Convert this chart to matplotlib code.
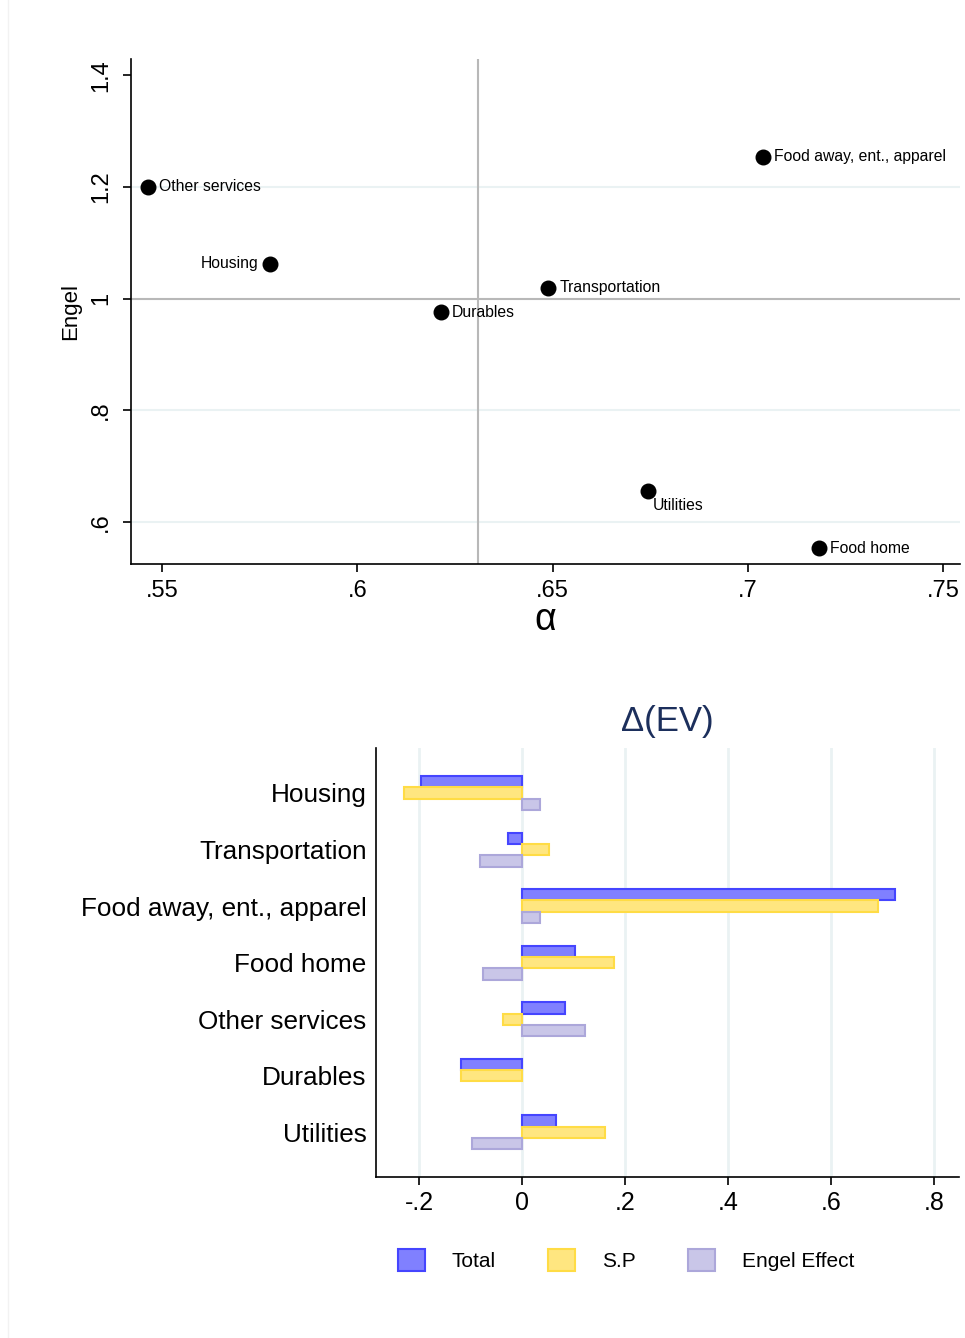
import matplotlib
matplotlib.use("Agg")
import matplotlib.pyplot as plt
from matplotlib.lines import Line2D
import numpy as np

plt.rcParams['font.family'] = ['Liberation Sans', 'DejaVu Sans']

# scatter data: alpha vs Engel
sectors = ["Other services", "Housing", "Food away, ent., apparel", "Transportation",
           "Durables", "Utilities", "Food home"]
alpha = [0.5464, 0.5775, 0.7037, 0.6488, 0.6214, 0.6744, 0.7181]
engel = [1.200, 1.062, 1.254, 1.019, 0.975, 0.655, 0.553]
label_pos = ["right", "left", "right", "right", "right", "below", "right"]
alpha_ref = 0.6308

# bar data: change in EV
categories = ["Housing", "Transportation", "Food away, ent., apparel", "Food home",
              "Other services", "Durables", "Utilities"]
total = [-0.197, -0.027, 0.725, 0.103, 0.084, -0.119, 0.065]
sp = [-0.230, 0.053, 0.692, 0.179, -0.037, -0.119, 0.162]
engel_effect = [0.034, -0.081, 0.034, -0.075, 0.122, 0.0, -0.098]

grid_col = "#eaf2f3"
ref_col = "#b8b8b8"

fig = plt.figure(figsize=(9.65, 13.38), dpi=100)
fig.add_artist(Line2D([8 / 965, 8 / 965], [0, 1], color="#f2f2f2", lw=1))

# ---- top panel ----
ax1 = fig.add_axes([0.136, 0.5783, 0.859, 0.3776])
for y in [0.6, 0.8, 1.2]:
    ax1.axhline(y, color=grid_col, lw=1.5, zorder=0)
ax1.axhline(1.0, color=ref_col, lw=1.5, zorder=1)
ax1.axvline(alpha_ref, color=ref_col, lw=1.5, zorder=1)
ax1.scatter(alpha, engel, s=110, color="black", zorder=3)
for name, x, y, pos in zip(sectors, alpha, engel, label_pos):
    if pos == "right":
        ax1.annotate(name, (x, y), xytext=(8, 0), textcoords="offset points",
                     ha="left", va="center", fontsize=11.3)
    elif pos == "left":
        ax1.annotate(name, (x, y), xytext=(-8, 0), textcoords="offset points",
                     ha="right", va="center", fontsize=11.3)
    else:
        ax1.annotate(name, (x, y), xytext=(3.5, -10.5), textcoords="offset points",
                     ha="left", va="center", fontsize=11.3)
ax1.set_xlim(0.5421, 0.7543)
ax1.set_ylim(0.524, 1.429)
ax1.set_xticks([0.55, 0.6, 0.65, 0.7, 0.75])
ax1.set_xticklabels([".55", ".6", ".65", ".7", ".75"])
ax1.set_yticks([0.6, 0.8, 1.0, 1.2, 1.4])
ax1.set_yticklabels([".6", ".8", "1", "1.2", "1.4"], rotation=90, va="center")
ax1.tick_params(axis="both", labelsize=17, length=6, width=1.2)
ax1.tick_params(axis="x", pad=5)
ax1.tick_params(axis="y", pad=8)
ax1.spines["top"].set_visible(False)
ax1.spines["right"].set_visible(False)
for s in ["left", "bottom"]:
    ax1.spines[s].set_linewidth(1.2)
ax1.set_xlabel("α", fontsize=27, labelpad=0)
ax1.set_ylabel("Engel", fontsize=16, labelpad=6)

# ---- bottom panel ----
ax2 = fig.add_axes([0.390, 0.1205, 0.604, 0.3205])
pos = np.arange(len(categories))
h = 0.2
for x in [-0.2, 0, 0.2, 0.4, 0.6, 0.8]:
    ax2.axvline(x, color=grid_col, lw=2, zorder=0)
b1 = ax2.barh(pos - h, total, height=h, color="#8080ff", edgecolor="#4545ff", lw=1.5, label="Total", zorder=2)
b2 = ax2.barh(pos, sp, height=h, color="#ffe680", edgecolor="#ffdc45", lw=1.5, label="S.P", zorder=2)
b3 = ax2.barh(pos + h, engel_effect, height=h, color="#c9c6e8", edgecolor="#aca7da", lw=1.5,
              label="Engel Effect", zorder=2)
for bar, v in zip(b3, engel_effect):
    if v == 0:
        bar.set_visible(False)
ax2.set_ylim(len(categories) - 1 + 0.785, -0.796)
ax2.set_xlim(-0.283, 0.849)
ax2.set_yticks(pos)
ax2.set_yticklabels(categories, fontsize=18.8)
ax2.tick_params(axis="y", length=0, pad=7)
ax2.set_xticks([-0.2, 0, 0.2, 0.4, 0.6, 0.8])
ax2.set_xticklabels(["-.2", "0", ".2", ".4", ".6", ".8"])
ax2.tick_params(axis="x", labelsize=18, length=6, width=1.2, pad=4)
ax2.spines["top"].set_visible(False)
ax2.spines["right"].set_visible(False)
for s in ["left", "bottom"]:
    ax2.spines[s].set_linewidth(1.2)
ax2.set_title("Δ(EV)", fontsize=25, color="#1c2f5c", x=0.5, pad=12)

fig.legend(handles=[b1, b2, b3], loc="center", bbox_to_anchor=(0.649, 0.058), ncol=3,
           frameon=False, fontsize=15, handlelength=1.3, handleheight=1.25,
           handletextpad=1.3, columnspacing=2.5)

fig.savefig("out.png", dpi=100)
